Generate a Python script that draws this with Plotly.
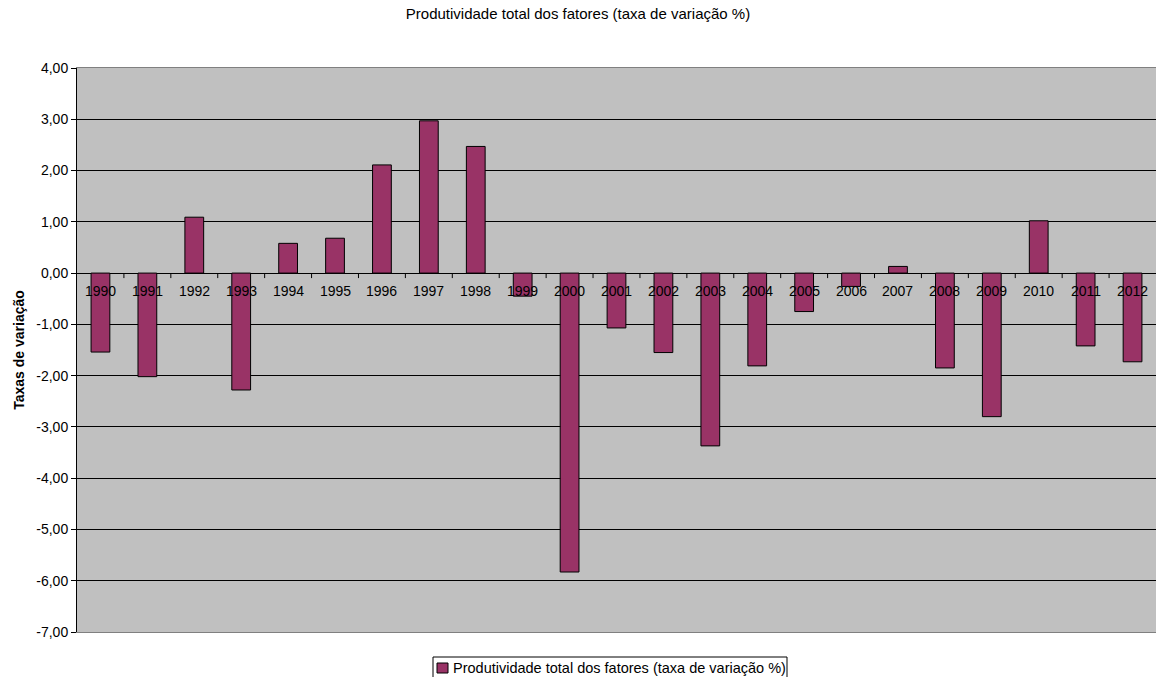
import plotly.graph_objects as go

# Produtividade total dos fatores, taxa de variação anual (%)
anos = [1990, 1991, 1992, 1993, 1994, 1995, 1996, 1997, 1998, 1999, 2000, 2001,
        2002, 2003, 2004, 2005, 2006, 2007, 2008, 2009, 2010, 2011, 2012]
ptf = [-1.54, -2.02, 1.09, -2.28, 0.58, 0.68, 2.11, 2.97, 2.47, -0.45, -5.83, -1.07,
       -1.55, -3.37, -1.81, -0.75, -0.26, 0.13, -1.85, -2.80, 1.02, -1.42, -1.73]
y_ticks = [4, 3, 2, 1, 0, -1, -2, -3, -4, -5, -6, -7]
y_labels = [f"{v:.2f}".replace(".", ",") for v in y_ticks]

serie_nome = "Produtividade total dos fatores (taxa de variação %)"
FONT = "Liberation Sans, Arial, sans-serif"
COR = "#993366"

W, H = 1156, 677
ML, MR, MT, MB = 77, 0, 68, 45
PW, PH = W - ML - MR, H - MT - MB


def px_x(p):
    return (p - ML) / PW


def px_y(p):
    return (H - MB - p) / PH


fig = go.Figure()
fig.add_trace(go.Bar(
    x=anos, y=ptf, name=serie_nome,
    marker=dict(color=COR, line=dict(color="#000000", width=1)),
    width=0.4, showlegend=False,
))

# category labels and tick marks sit on the zero line
for ano in anos:
    fig.add_annotation(x=ano, y=0, xref="x", yref="y", text=str(ano),
                       showarrow=False, yanchor="top", yshift=-8,
                       font=dict(family=FONT, size=14, color="#000000"))
for ano in anos[:-1]:
    fig.add_shape(type="line", xref="x", yref="y", x0=ano + 0.5, x1=ano + 0.5,
                  ysizemode="pixel", yanchor=0, y0=0, y1=-5,
                  line=dict(color="#000000", width=1))

# legend box below the plot
fig.add_shape(type="rect", xref="paper", yref="paper",
              x0=px_x(433), x1=px_x(787), y0=px_y(657), y1=px_y(679),
              line=dict(color="#000000", width=1), fillcolor="#FFFFFF", layer="above")
fig.add_shape(type="rect", xref="paper", yref="paper",
              x0=px_x(437), x1=px_x(448), y0=px_y(663), y1=px_y(673),
              line=dict(color="#000000", width=1), fillcolor=COR, layer="above")
fig.add_annotation(xref="paper", yref="paper", x=px_x(451), y=px_y(667.5),
                   xanchor="left", yanchor="middle", showarrow=False,
                   text=serie_nome, font=dict(family=FONT, size=14.5, color="#000000"))

fig.update_layout(
    width=W, height=H,
    margin=dict(l=ML, r=MR, t=MT, b=MB),
    paper_bgcolor="#FFFFFF", plot_bgcolor="#C0C0C0",
    font=dict(family=FONT, size=14, color="#000000"),
    title=dict(text=serie_nome, x=0.5, xanchor="center", y=1 - 14 / H,
               yanchor="middle", font=dict(family=FONT, size=15, color="#000000")),
    bargap=0.6,
    showlegend=False,
    xaxis=dict(range=[anos[0] - 0.5, anos[-1] + 0.5], showticklabels=False,
               showgrid=False, zeroline=False, ticks="",
               showline=True, linecolor="#808080", linewidth=1, mirror=True),
    yaxis=dict(range=[-7, 4], tickvals=y_ticks, ticktext=y_labels,
               showgrid=True, gridcolor="#000000", gridwidth=1,
               zeroline=True, zerolinecolor="#000000", zerolinewidth=1,
               showline=True, linecolor="#000000", linewidth=1,
               ticks="outside", ticklen=5, tickcolor="#000000",
               tickfont=dict(family=FONT, size=14, color="#000000"),
               title=dict(text="<b>Taxas de variação</b>", standoff=8,
                          font=dict(family=FONT, size=14, color="#000000"))),
)

fig.write_html("out.html")
